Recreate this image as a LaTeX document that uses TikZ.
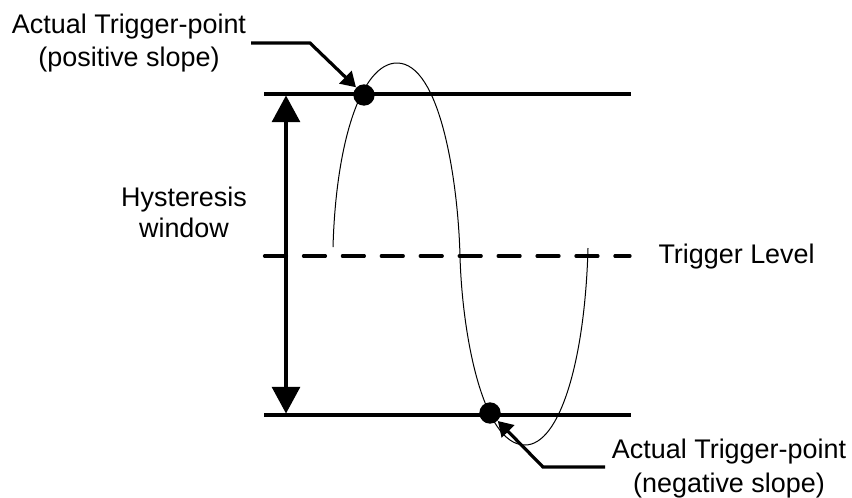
\documentclass[tikz,border=0pt]{standalone}
\usepackage{fontspec}
\setmainfont{Liberation Sans}
\usetikzlibrary{arrows.meta}

\tikzset{every picture/.style={line width=0.75pt}}
\tikzset{
  levelline/.style={line width=2.4pt},
  trigdash/.style={line width=2.4pt, line cap=round, dash pattern=on 16.5pt off 12.7pt},
  dot/.style={circle, fill=black, inner sep=0pt, minimum size=16pt},
  lbl/.style={inner sep=0pt, align=center, font=\fontsize{20.2}{25}\selectfont},
  leader/.style={line width=2.4pt, -{Triangle[length=11pt,width=13pt]}},
  spanarrow/.style={line width=2.4pt, {Triangle[length=20pt,width=21pt]}-{Triangle[length=20pt,width=21pt]}},
}

\begin{document}
\begin{tikzpicture}[x=0.75pt,y=0.75pt,yscale=-1,xscale=1]
\useasboundingbox (0,0) rectangle (852,497);

%Curve Lines (signal)
\draw (333,247) .. controls (336,140) and (362,63) .. (397,63)
      .. controls (440,63) and (458,180) .. (460,256)
      .. controls (462,332) and (482,445) .. (525,445)
      .. controls (560,445) and (585,360) .. (588,248) ;

%Straight Lines (levels)
\draw [levelline]   (264,94) -- (631,94) ;
\draw [levelline]   (264,415) -- (631,415) ;
\draw [trigdash]   (264.5,256) -- (630,256) ;

%Hysteresis span
\coordinate (hup) at (286,95.5);
\coordinate (hdown) at (286,413.5);
\draw [spanarrow]   (hup) -- (hdown) ;

%Trigger points
\node [dot] (dpos) at (364,95) {};
\node [dot] (dneg) at (490,413) {};

% Text Node
\node [lbl] (tpos) at (129,43) {Actual Trigger-point\\(positive slope)};
% Text Node
\node [lbl] (tneg) at (729,468.5) {Actual Trigger-point\\(negative slope)};
% Text Node
\node [lbl, font=\fontsize{20.2}{23.3}\selectfont] (hyst) at (184,212) {Hysteresis\\window};
% Text Node
\node [lbl, anchor=base west] (trig) at (658,263) {Trigger Level};

%Leaders
\coordinate (kpos) at (310,43);
\coordinate (kneg) at (543,467);
\coordinate (sneg) at (605,467);
\draw [leader]   ([xshift=3.4pt]tpos.east) -- (kpos) -- (dpos) ;
\draw [leader]   (sneg) -- (kneg) -- (dneg) ;

\end{tikzpicture}
\end{document}
